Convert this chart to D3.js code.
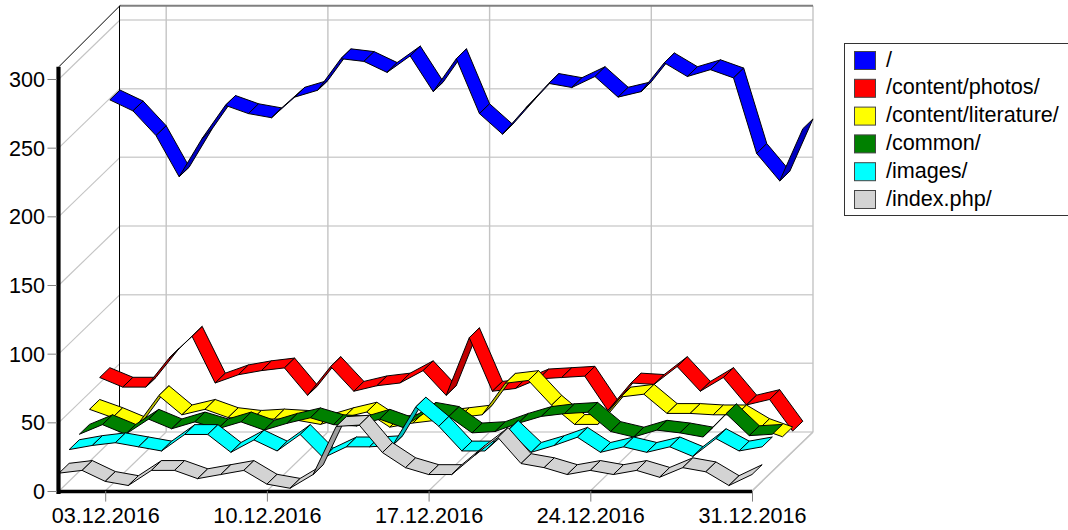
<!DOCTYPE html>
<html><head><meta charset="utf-8">
<script src="https://cdn.jsdelivr.net/npm/d3@7/dist/d3.min.js"></script>
<style>html,body{margin:0;padding:0;background:#fff}svg{display:block}text{font-family:"Liberation Sans",Arial,sans-serif;fill:#000}</style>
</head><body><svg id="c" width="1068" height="530"></svg>
<script>
const seriesNames=["/","/content/photos/","/content/literature/","/common/","/images/","/index.php/"];
const seriesColors=["#0000ff","#ff0000","#ffff00","#008000","#00ffff","#d3d3d3"];
const days=d3.range(1,32);
const yTicks=[0,50,100,150,200,250,300];
const xTickDays=[3,10,17,24,31];
const xTickLabels=["03.12.2016","10.12.2016","17.12.2016","24.12.2016","31.12.2016"];
const rootViews=[249,241,223,193,221,245,239,236,251,256,279,277,269,281,255,279,239,224,243,261,258,266,251,255,276,266,271,265,210,190,228];
const photosViews=[54,47,47,68,84,50,56,59,61,41,62,44,48,50,59,41,83,44,46,53,54,55,30,50,49,62,44,54,34,38,15];
const literatureViews=[38,32,25,48,34,38,32,30,31,30,27,32,36,25,28,30,32,34,57,59,41,27,27,47,49,35,35,34,34,24,18];
const commonViews=[27,34,27,38,31,36,31,36,30,35,39,34,33,38,32,43,40,28,29,35,40,42,43,29,25,30,28,25,42,26,27];
const imagesViews=[23,26,28,25,22,34,34,21,30,22,34,17,25,25,26,54,40,22,22,37,21,26,32,21,25,21,25,18,31,22,25];
const indexViews=[13,15,7,4,15,15,9,12,15,5,2,12,47,48,28,17,12,12,26,39,20,17,12,15,12,15,10,17,14,4,12];
const seriesValues=[rootViews,photosViews,literatureViews,commonViews,imagesViews,indexViews];
const axisMax=309;

const svg=d3.select("#c");
const x=d3.scaleLinear().domain([1,31]).range([59,752]);
const y=d3.scaleLinear().domain([0,300]).range([491,79]);
const depthX=61,depthY=-59,n=seriesNames.length;
const gridCol="#c4c4c4";
const topBack=y(axisMax)-61;
const line=(x1,y1,x2,y2,c,w)=>svg.append("line").attr("x1",x1).attr("y1",y1).attr("x2",x2).attr("y2",y2).attr("stroke",c).attr("stroke-width",w);

// back wall and side wall grid
yTicks.forEach(t=>{
  const py=y(t);
  line(x(1)+depthX,py+depthY,x(31)+depthX,py+depthY,"#d0d0d0",1.5);
  line(x(1),py,x(1)+depthX,py+depthY,gridCol,1.1);
});
xTickDays.forEach(d=>{
  const px=x(d);
  line(px+depthX,y(0)+depthY,px+depthX,topBack,gridCol,1.4);
  line(px,y(0),px+depthX,y(0)+depthY,gridCol,1.1);
});
line(x(31),y(0),x(31)+depthX,y(0)+depthY,gridCol,1.5);
line(x(1)+depthX-.5,y(0)+depthY,x(1)+depthX-.5,topBack,"#000",1);
line(x(1)+depthX,topBack,x(31)+depthX,topBack,"#808080",2);
line(x(1),y(axisMax),x(1)+depthX,topBack,"#000",1);

// ribbons, front of chart last, each segment a quad in depth slot
function shade(hex,f){const c=d3.rgb(hex);return d3.rgb(c.r*f,c.g*f,c.b*f).formatHex();}
seriesValues.forEach((vals,s)=>{
  const slot=n-1-s;
  const z0=slot/n,z1=(slot+1)/n;
  const g=svg.append("g");
  g.selectAll("path").data(d3.pairs(vals.map((v,i)=>[days[i],v]))).join("path")
    .attr("d",([a,b])=>{
      const p=[[x(a[0])+z0*depthX,y(a[1])+z0*depthY],[x(b[0])+z0*depthX,y(b[1])+z0*depthY],
               [x(b[0])+z1*depthX,y(b[1])+z1*depthY],[x(a[0])+z1*depthX,y(a[1])+z1*depthY]];
      return "M"+p.map(q=>q.join(",")).join("L")+"Z";
    })
    .attr("fill",([a,b])=>{
      const dx=x(b[0])-x(a[0]),dy=y(b[1])-y(a[1]);
      const under=-dy>dx*(-depthY/depthX);
      return under?shade(seriesColors[s],0.75):seriesColors[s];
    })
    .attr("stroke","#000").attr("stroke-width",1);
});

// axes
line(x(1)-.5,y(axisMax),x(1)-.5,y(0)+3,"#000",4.2);
line(x(1)-2,y(0)+.5,x(31),y(0)+.5,"#000",3.6);
const yAxis=svg.append("g").attr("transform",`translate(${x(1)-2},0)`).call(d3.axisLeft(y).tickValues(yTicks).tickSize(9.5).tickPadding(2.5));
yAxis.select(".domain").remove();
yAxis.selectAll("line").attr("stroke","#808080");
yAxis.selectAll("text").attr("font-size",21.6).attr("dy","0.35em");
const xAxis=svg.append("g").attr("transform",`translate(0,${y(0)})`).call(d3.axisBottom(x).tickValues(xTickDays).tickSize(10.6).tickPadding(5.6).tickFormat((d,i)=>xTickLabels[i]));
xAxis.select(".domain").remove();
xAxis.selectAll("line").attr("stroke","#808080");
xAxis.selectAll("text").attr("font-size",21.6);
svg.selectAll(".tick text").attr("font-family","Liberation Sans");

// legend
const rowY=d3.scaleLinear().domain([0,5]).range([51,190]);
svg.append("rect").attr("x",844.5).attr("y",43.5).attr("width",240).attr("height",172).attr("fill","#fff").attr("stroke","#333");
seriesNames.forEach((nm,i)=>{
  svg.append("rect").attr("x",854.5).attr("y",rowY(i)+.5).attr("width",21).attr("height",18).attr("fill",seriesColors[i]).attr("stroke","#444");
  svg.append("text").attr("x",886).attr("y",rowY(i)+15.5).attr("font-size",21.6).text(nm);
});
</script></body></html>
